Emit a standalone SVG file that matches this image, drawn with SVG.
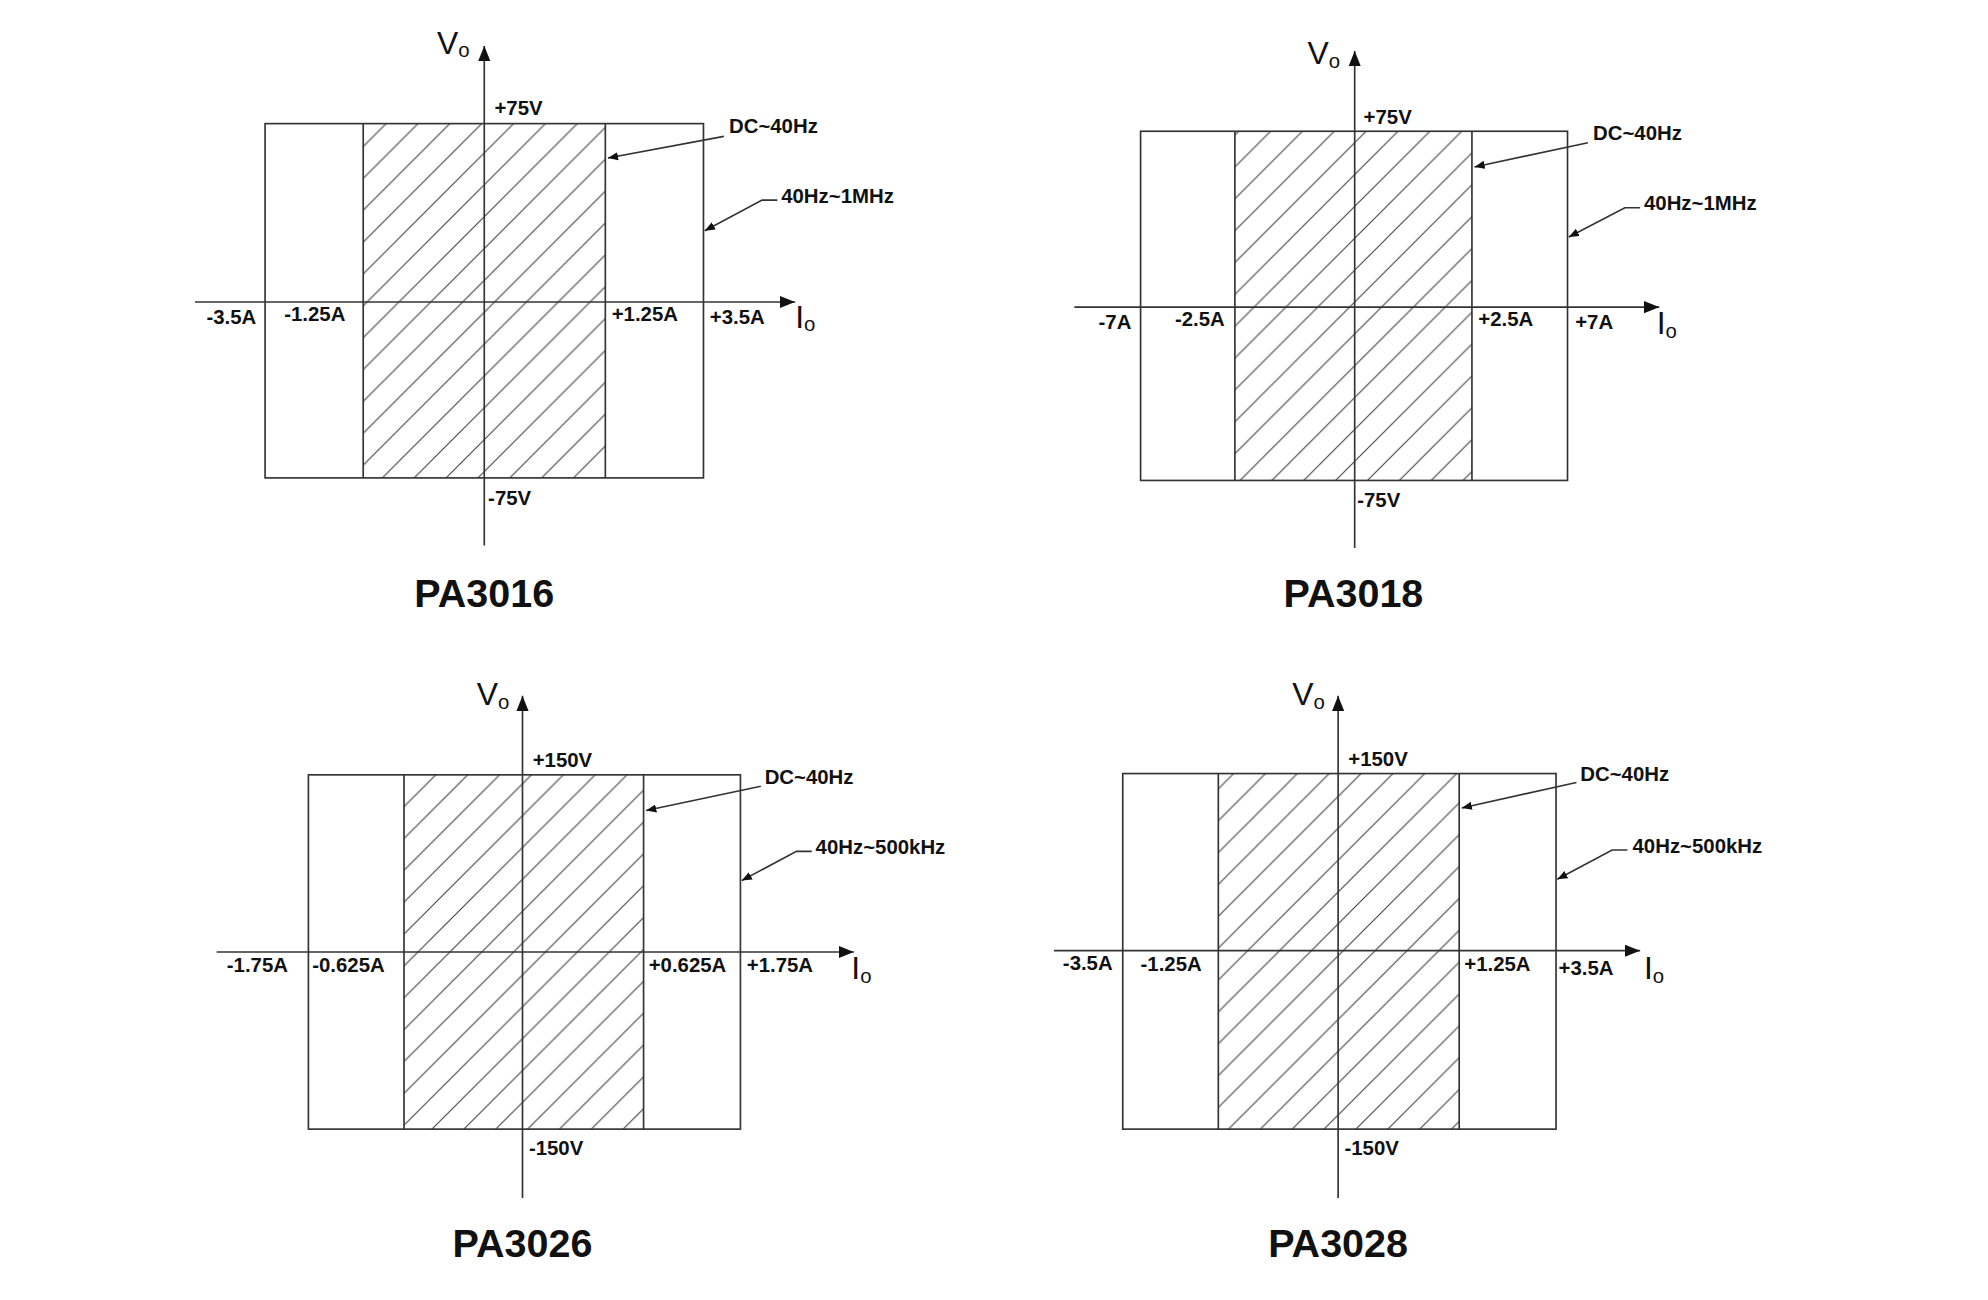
<svg xmlns="http://www.w3.org/2000/svg" width="1988" height="1300" viewBox="0 0 1988 1300">
<style>
.l{fill:none;stroke:#333;stroke-width:1.3}
.t{font-family:"Liberation Sans",Arial,sans-serif;font-weight:bold;font-size:16px;fill:#111}
.v{font-family:"Liberation Sans",Arial,sans-serif;font-size:25px;fill:#111}
.ti{font-family:"Liberation Sans",Arial,sans-serif;font-weight:bold;font-size:31px;fill:#111;text-anchor:middle}
</style>
<defs>
<pattern id="h" patternUnits="userSpaceOnUse" width="25" height="25">
<path d="M-2,27 L27,-2 M-2,2 L2,-2 M23,27 L27,23" stroke="#444" stroke-width="0.9" fill="none"/>
</pattern>
<marker id="a" viewBox="0 0 10 10" refX="10" refY="5" markerWidth="8" markerHeight="8" orient="auto" markerUnits="userSpaceOnUse"><path d="M0,1 L10,5 L0,9z" fill="#111"/></marker>
<marker id="b" viewBox="0 0 10 10" refX="10" refY="5" markerWidth="12" markerHeight="12" orient="auto" markerUnits="userSpaceOnUse"><path d="M0,1 L10,5 L0,9z" fill="#111"/></marker>
</defs>
<rect width="1988" height="1300" fill="#fff"/>
<g transform="scale(1.2744)">
<g id="pa3016">
<rect x="285" y="97" width="190" height="278" fill="url(#h)"/>
<rect class="l" x="208" y="97" width="344" height="278"/>
<path class="l" d="M285,97V375M475,97V375"/>
<path class="l" d="M380,428V36" marker-end="url(#b)"/>
<path class="l" d="M153,237H624" marker-end="url(#b)"/>
<text class="v" x="343" y="42">V<tspan font-size="16" dy="3">o</tspan></text>
<text class="t" x="388" y="90">+75V</text>
<text class="t" x="383" y="396">-75V</text>
<text class="t" x="162" y="254">-3.5A</text>
<text class="t" x="223" y="252">-1.25A</text>
<text class="t" x="480" y="252">+1.25A</text>
<text class="t" x="557" y="254">+3.5A</text>
<text class="v" x="624" y="257">I<tspan font-size="16" dy="3">o</tspan></text>
<text class="t" x="572" y="104">DC~40Hz</text>
<path class="l" d="M568,107L477,124" marker-end="url(#a)"/>
<text class="t" x="613" y="159">40Hz~1MHz</text>
<path class="l" d="M610,157H598L553,181" marker-end="url(#a)"/>
<text class="ti" x="380" y="476">PA3016</text>
</g>
<g id="pa3018">
<rect x="969" y="103" width="186" height="274" fill="url(#h)"/>
<rect class="l" x="895" y="103" width="335" height="274"/>
<path class="l" d="M969,103V377M1155,103V377"/>
<path class="l" d="M1063,430V40" marker-end="url(#b)"/>
<path class="l" d="M843,241H1302" marker-end="url(#b)"/>
<text class="v" x="1026" y="50">V<tspan font-size="16" dy="3">o</tspan></text>
<text class="t" x="1070" y="97">+75V</text>
<text class="t" x="1065" y="398">-75V</text>
<text class="t" x="862" y="258">-7A</text>
<text class="t" x="922" y="256">-2.5A</text>
<text class="t" x="1160" y="256">+2.5A</text>
<text class="t" x="1236" y="258">+7A</text>
<text class="v" x="1300" y="262">I<tspan font-size="16" dy="3">o</tspan></text>
<text class="t" x="1250" y="110">DC~40Hz</text>
<path class="l" d="M1246,112L1157,131" marker-end="url(#a)"/>
<text class="t" x="1290" y="165">40Hz~1MHz</text>
<path class="l" d="M1287,163H1275L1231,186" marker-end="url(#a)"/>
<text class="ti" x="1062" y="476">PA3018</text>
</g>
<g id="pa3026">
<rect x="317" y="608" width="188" height="278" fill="url(#h)"/>
<rect class="l" x="242" y="608" width="339" height="278"/>
<path class="l" d="M317,608V886M505,608V886"/>
<path class="l" d="M410,940V546" marker-end="url(#b)"/>
<path class="l" d="M170,747H670" marker-end="url(#b)"/>
<text class="v" x="374" y="553">V<tspan font-size="16" dy="3">o</tspan></text>
<text class="t" x="418" y="602">+150V</text>
<text class="t" x="415" y="906">-150V</text>
<text class="t" x="178" y="763">-1.75A</text>
<text class="t" x="245" y="763">-0.625A</text>
<text class="t" x="509" y="763">+0.625A</text>
<text class="t" x="586" y="763">+1.75A</text>
<text class="v" x="668" y="768">I<tspan font-size="16" dy="3">o</tspan></text>
<text class="t" x="600" y="615">DC~40Hz</text>
<path class="l" d="M597,617L507,636" marker-end="url(#a)"/>
<text class="t" x="640" y="670">40Hz~500kHz</text>
<path class="l" d="M637,668H625L582,691" marker-end="url(#a)"/>
<text class="ti" x="410" y="986">PA3026</text>
</g>
<g id="pa3028">
<rect x="956" y="607" width="189" height="279" fill="url(#h)"/>
<rect class="l" x="881" y="607" width="340" height="279"/>
<path class="l" d="M956,607V886M1145,607V886"/>
<path class="l" d="M1050,940V546" marker-end="url(#b)"/>
<path class="l" d="M827,746H1287" marker-end="url(#b)"/>
<text class="v" x="1014" y="553">V<tspan font-size="16" dy="3">o</tspan></text>
<text class="t" x="1058" y="601">+150V</text>
<text class="t" x="1055" y="906">-150V</text>
<text class="t" x="834" y="761">-3.5A</text>
<text class="t" x="895" y="762">-1.25A</text>
<text class="t" x="1149" y="762">+1.25A</text>
<text class="t" x="1223" y="765">+3.5A</text>
<text class="v" x="1290" y="768">I<tspan font-size="16" dy="3">o</tspan></text>
<text class="t" x="1240" y="613">DC~40Hz</text>
<path class="l" d="M1237,614L1147,634" marker-end="url(#a)"/>
<text class="t" x="1281" y="669">40Hz~500kHz</text>
<path class="l" d="M1277,667H1265L1222,690" marker-end="url(#a)"/>
<text class="ti" x="1050" y="986">PA3028</text>
</g>
</g>
</svg>
